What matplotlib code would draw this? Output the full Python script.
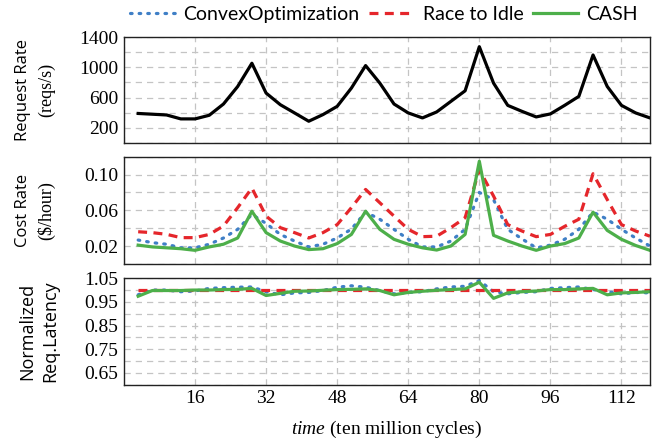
import numpy as np
import matplotlib.pyplot as plt
from matplotlib.ticker import MultipleLocator

plt.rcParams['mathtext.fontset'] = 'custom'
plt.rcParams['mathtext.it'] = 'Liberation Serif:italic'
plt.rcParams['mathtext.rm'] = 'Liberation Serif'

# Datos
steps = np.arange(1, 38)
cycles = steps * 3.2  # ten million cycles

request_rate = [390, 380, 370, 318, 318, 366, 515, 747, 1055, 660, 506, 397, 287, 375, 484, 726,
                1024, 792, 515, 397, 331, 410, 550, 690, 1274, 792, 497, 418, 344, 384, 497, 616,
                1164, 747, 497, 397, 331]

cost_convex = [0.0267, 0.0238, 0.022, 0.018, 0.018, 0.022, 0.029, 0.0387, 0.0554, 0.0453, 0.033, 0.0256,
               0.019, 0.022, 0.029, 0.039, 0.058, 0.05, 0.0387, 0.0275, 0.019, 0.019, 0.0256, 0.0387,
               0.080, 0.072, 0.0387, 0.028, 0.018, 0.021, 0.0275, 0.0387, 0.058, 0.05, 0.0387, 0.029, 0.02]
cost_race = [0.036, 0.035, 0.0331, 0.0294, 0.0294, 0.033, 0.0424, 0.063, 0.085, 0.0535, 0.0406, 0.035,
             0.029, 0.035, 0.044, 0.063, 0.0834, 0.0685, 0.0535, 0.0387, 0.0305, 0.031, 0.0406, 0.0517,
             0.1057, 0.076, 0.044, 0.0368, 0.0305, 0.033, 0.042, 0.05, 0.101, 0.072, 0.044, 0.0368, 0.031]
cost_cash = [0.021, 0.019, 0.018, 0.017, 0.0152, 0.019, 0.022, 0.029, 0.059, 0.035, 0.0256, 0.02,
             0.016, 0.017, 0.0227, 0.033, 0.059, 0.0387, 0.0275, 0.022, 0.018, 0.0155, 0.02, 0.033,
             0.115, 0.032, 0.0256, 0.02, 0.0152, 0.02, 0.0227, 0.029, 0.058, 0.0375, 0.0275, 0.0206, 0.0152]

lat_convex = [0.98, 1.0, 1.0, 0.993, 0.996, 1.007, 1.01, 1.012, 1.013, 0.993, 0.98, 0.988, 0.99, 0.998,
              1.012, 1.018, 1.012, 0.998, 0.984, 0.99, 0.993, 1.005, 1.013, 1.016, 1.04, 0.993, 0.984,
              0.99, 0.993, 1.007, 1.01, 1.013, 1.002, 0.993, 0.984, 0.99, 0.988]
lat_race = [1.0] * 37
lat_cash = [0.974, 0.998, 0.998, 0.998, 1.0, 1.0, 1.002, 1.003, 1.007, 0.977, 0.986, 0.995, 0.996, 0.999,
            1.002, 1.003, 1.005, 0.998, 0.98, 0.99, 0.995, 0.999, 1.002, 1.005, 1.033, 0.965, 0.988,
            0.993, 0.996, 1.002, 1.002, 1.005, 1.007, 0.98, 0.988, 0.99, 0.993]

labels = ['ConvexOptimization', 'Race to Idle', 'CASH']
c_blue = '#3f7fc6'
c_red = '#e5262b'
c_green = '#4daf4a'

serif = 'Liberation Serif'
sans = 'Open Sans'
legend_font = 'Lato'

fig = plt.figure(figsize=(6.7, 4.48), dpi=100)
left, width = 0.185, 0.785
ax1 = fig.add_axes([left, 0.681, width, 0.236])
ax2 = fig.add_axes([left, 0.411, width, 0.239])
ax3 = fig.add_axes([left, 0.141, width, 0.238])

grid_kw = dict(color='#c4c4c4', linestyle=(0, (5, 4)), linewidth=0.9)
dot_style = (0, (0.5, 2.2))
dash_style = (0, (2.8, 2.0))


def two_line_label(ax, top, bottom, bottom_family, x1=-0.192, x2=-0.148, size=12):
    ax.text(x1, 0.5, top, rotation=90, transform=ax.transAxes, ha='center', va='center',
            family=sans, fontsize=size)
    ax.text(x2, 0.5, bottom, rotation=90, transform=ax.transAxes, ha='center', va='center',
            family=bottom_family, fontsize=13 if bottom_family == serif else size)


for ax in (ax1, ax2, ax3):
    ax.set_xlim(0, 118.4)
    ax.xaxis.set_major_locator(MultipleLocator(16))
    ax.grid(True, which='major', axis='x', **grid_kw)
    ax.grid(True, which='both', axis='y', **grid_kw)
    ax.tick_params(which='both', length=0, labelsize=14, pad=4)
    for s in ax.spines.values():
        s.set_linewidth(1.0)
        s.set_color('#222222')
    ax.set_axisbelow(True)

# Request rate
ax1.plot(cycles, request_rate, color='black', linewidth=2.3)
ax1.set_ylim(0, 1400)
ax1.set_yticks([200, 600, 1000, 1400])
ax1.yaxis.set_minor_locator(MultipleLocator(200))
two_line_label(ax1, 'Request Rate', '(reqs/s)', serif)
ax1.tick_params(labelbottom=False)

# Cost rate
l1, = ax2.plot(cycles, cost_convex, color=c_blue, linewidth=2.3, linestyle=dot_style,
               dash_capstyle='round')
l2, = ax2.plot(cycles, cost_race, color=c_red, linewidth=2.3, linestyle=dash_style)
l3, = ax2.plot(cycles, cost_cash, color=c_green, linewidth=2.3)
ax2.set_ylim(0, 0.12)
ax2.set_yticks([0.02, 0.06, 0.10])
ax2.set_yticklabels(['0.02', '0.06', '0.10'])
ax2.yaxis.set_minor_locator(MultipleLocator(0.02))
two_line_label(ax2, 'Cost Rate', '($/hour)', serif)
ax2.tick_params(labelbottom=False)

# Latency
ax3.plot(cycles, lat_convex, color=c_blue, linewidth=2.3, linestyle=dot_style,
         dash_capstyle='round')
ax3.plot(cycles, lat_race, color=c_red, linewidth=2.3, linestyle=dash_style)
ax3.plot(cycles, lat_cash, color=c_green, linewidth=2.3)
ax3.set_ylim(0.6, 1.05)
ax3.set_yticks([0.65, 0.75, 0.85, 0.95, 1.05])
ax3.set_yticklabels(['0.65', '0.75', '0.85', '0.95', '1.05'])
ax3.yaxis.set_minor_locator(MultipleLocator(0.05))
ax3.set_xticks([16, 32, 48, 64, 80, 96, 112])
two_line_label(ax3, 'Normalized', 'Req.Latency', sans, x1=-0.183, x2=-0.141, size=13)
ax3.set_xlabel(r'$\it{time}$ (ten million cycles)', fontsize=14, family=serif, labelpad=8)

for ax in (ax1, ax2, ax3):
    for lab in ax.get_yticklabels() + ax.get_xticklabels():
        lab.set_family(serif)

fig.legend([l1, l2, l3], labels, loc='center', bbox_to_anchor=(0.573, 0.967), ncol=3,
           frameon=False, prop={'family': legend_font, 'size': 14}, handlelength=2.3,
           handletextpad=0.45, columnspacing=0.5)

fig.savefig('out.png', dpi=100)
